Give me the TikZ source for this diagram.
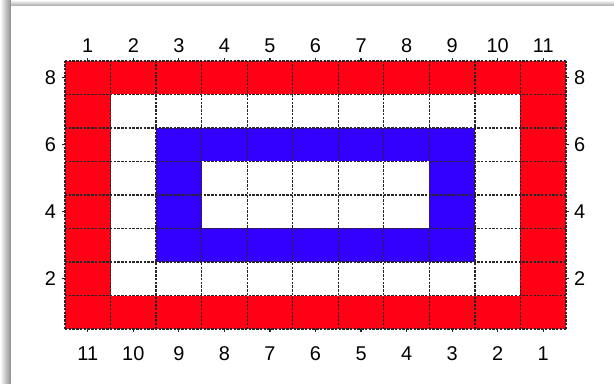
\documentclass[tikz,border=0pt]{standalone}
\usepackage{fontspec}
\setmainfont{Liberation Sans}
\usetikzlibrary{positioning}
\definecolor{cellred}{RGB}{255,0,20}
\definecolor{cellblue}{RGB}{51,0,255}

\begin{document}
\begin{tikzpicture}[
  x=0.03cm,y=0.03cm,
  every node/.style={font=\fontsize{17}{19}\selectfont,inner sep=0pt,anchor=base},
  gridline/.style={black!85,line width=1.1pt,dash pattern=on 2pt off 1.2pt},
  tickmark/.style={black!85,line width=1pt}
]
  \useasboundingbox (0,0) rectangle (614,383);
  % panel shadow
  \shade[left color=white,right color=black!45] (0,0) rectangle (11,383);
  \shade[top color=white,bottom color=black!35] (11,377) rectangle (614,383);
  \fill[white] (11,0) rectangle (614,377);

  \begin{scope}[shift={(65,54)},x=1.3664cm,y=1.005cm]
    % cells
    \fill[cellred]  (0,0) rectangle (11,8);
    \fill[white]    (1,1) rectangle (10,7);
    \fill[cellblue] (2,2) rectangle (9,6);
    \fill[white]    (3,3) rectangle (8,5);
    \draw[gridline,xstep=1.3664cm,ystep=1.005cm] (0,0) grid (11,8);

    % column ticks and labels
    \foreach \i in {1,...,11}{
      \pgfmathtruncatemacro{\j}{12-\i}
      \draw[tickmark] (\i-0.5,8) -- ++(0,0.09);
      \draw[tickmark] (\i-0.5,0) -- ++(0,-0.09);
      \node (top\i) at (\i-0.5,8.24) {\i};
      \node (bot\i) at (\i-0.5,-0.95) {\j};
    }
    % row ticks and labels
    \foreach \r in {2,4,6,8}{
      \draw[tickmark] (0,\r-0.5) -- ++(-0.066,0);
      \draw[tickmark] (11,\r-0.5) -- ++(0.066,0);
      \node (left\r)  at (-0.32,\r-0.71) {\r};
      \node (right\r) at (11.3,\r-0.71) {\r};
    }
  \end{scope}
\end{tikzpicture}
\end{document}
